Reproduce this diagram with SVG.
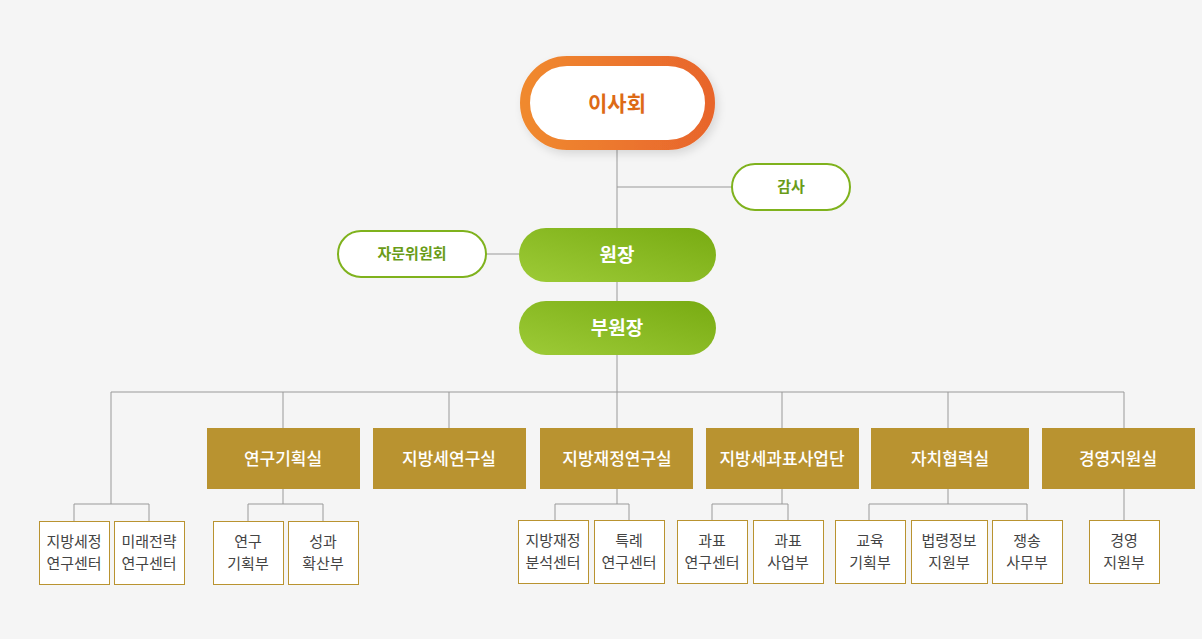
<svg xmlns="http://www.w3.org/2000/svg" width="1202" height="639" viewBox="0 0 1202 639">
<style>
text{font-family:"Noto Sans CJK KR","Noto Sans",sans-serif;text-anchor:middle}
.ln{stroke:#999;stroke-width:1;fill:none}
.off rect{fill:#b99330}
.off text{fill:#fff;font-size:17px;font-weight:500}
.sub rect{fill:#fff;stroke:#b99330;stroke-width:1}
.sub text{fill:#444;font-size:15px}
.gr rect{fill:url(#g)}
.gr text{fill:#fff;font-size:19px;font-weight:700}
.ol rect{fill:#fff;stroke:#7fb21d;stroke-width:2}
.ol text{fill:#6a9c18;font-size:15px;font-weight:700}
</style>
<defs>
<linearGradient id="g" x1="0" y1="1" x2="1" y2="0"><stop offset="0" stop-color="#9dcb37"/><stop offset="1" stop-color="#78ab12"/></linearGradient>
<linearGradient id="o" x1="0" y1="0" x2="1" y2="0"><stop offset="0" stop-color="#f0892f"/><stop offset="1" stop-color="#e8652c"/></linearGradient>
<filter id="sh" x="-20%" y="-20%" width="140%" height="150%"><feDropShadow dx="3" dy="4" stdDeviation="4" flood-color="#000" flood-opacity="0.12"/></filter>
</defs>
<rect width="1202" height="639" fill="#f5f5f5"/>
<g id="connectors" class="ln">
<path d="M617 145V301M617 187H732M486 254H519M617 355V392M111 392H1124"/>
<path d="M111 392V504M74 521V504H149V521"/>
<path d="M283 392V428M283 489V504M248 521V504H323V521"/>
<path d="M449 392V428"/>
<path d="M617 428V392M617 489V504M555 520V504H629V520"/>
<path d="M782 392V428M782 489V504M712 520V504H788V520"/>
<path d="M948 392V428M948 489V504M869 520V504H1027V520"/>
<path d="M1124 392V428M1124 489V520"/>
</g>
<g id="board"><rect x="525" y="61" width="185" height="84" rx="42" fill="#fff" stroke="url(#o)" stroke-width="10" filter="url(#sh)"/><text x="617" y="111" font-size="21" font-weight="700" fill="#dd6a16">이사회</text></g>
<g id="audit" class="ol"><rect x="732" y="164" width="118" height="46" rx="23"/><text x="791" y="192">감사</text></g>
<g id="advisory" class="ol"><rect x="338" y="231" width="148" height="46" rx="23"/><text x="412" y="259">자문위원회</text></g>
<g id="president" class="gr"><rect x="519" y="228" width="197" height="54" rx="27"/><text x="617" y="262">원장</text></g>
<g id="vice" class="gr"><rect x="519" y="301" width="197" height="54" rx="27"/><text x="617" y="335">부원장</text></g>
<g id="o1" class="off"><rect x="207" y="428" width="153" height="61"/><text x="283" y="465">연구기획실</text></g>
<g id="o2" class="off"><rect x="373" y="428" width="153" height="61"/><text x="449" y="465">지방세연구실</text></g>
<g id="o3" class="off"><rect x="540" y="428" width="153" height="61"/><text x="617" y="465">지방재정연구실</text></g>
<g id="o4" class="off"><rect x="706" y="428" width="153" height="61"/><text x="782" y="465">지방세과표사업단</text></g>
<g id="o5" class="off"><rect x="871" y="428" width="158" height="61"/><text x="950" y="465">자치협력실</text></g>
<g id="o6" class="off"><rect x="1042" y="428" width="153" height="61"/><text x="1118" y="465">경영지원실</text></g>
<g id="s1" class="sub"><rect x="39.5" y="521.5" width="70" height="63"/><text x="74" y="547">지방세정</text><text x="74" y="569">연구센터</text></g>
<g id="s2" class="sub"><rect x="114.5" y="521.5" width="70" height="63"/><text x="149" y="547">미래전략</text><text x="149" y="569">연구센터</text></g>
<g id="s3" class="sub"><rect x="213.5" y="521.5" width="70" height="63"/><text x="248" y="547">연구</text><text x="248" y="569">기획부</text></g>
<g id="s4" class="sub"><rect x="288.5" y="521.5" width="70" height="63"/><text x="323" y="547">성과</text><text x="323" y="569">확산부</text></g>
<g id="s5" class="sub"><rect x="518.5" y="520.5" width="70" height="63"/><text x="553" y="546">지방재정</text><text x="553" y="568">분석센터</text></g>
<g id="s6" class="sub"><rect x="594.5" y="520.5" width="70" height="63"/><text x="629" y="546">특례</text><text x="629" y="568">연구센터</text></g>
<g id="s7" class="sub"><rect x="677.5" y="520.5" width="70" height="63"/><text x="712" y="546">과표</text><text x="712" y="568">연구센터</text></g>
<g id="s8" class="sub"><rect x="753.5" y="520.5" width="70" height="63"/><text x="788" y="546">과표</text><text x="788" y="568">사업부</text></g>
<g id="s9" class="sub"><rect x="835.5" y="520.5" width="70" height="63"/><text x="870" y="546">교육</text><text x="870" y="568">기획부</text></g>
<g id="s10" class="sub"><rect x="911.5" y="520.5" width="76" height="63"/><text x="949" y="546">법령정보</text><text x="949" y="568">지원부</text></g>
<g id="s11" class="sub"><rect x="992.5" y="520.5" width="70" height="63"/><text x="1027" y="546">쟁송</text><text x="1027" y="568">사무부</text></g>
<g id="s12" class="sub"><rect x="1089.5" y="520.5" width="70" height="63"/><text x="1124" y="546">경영</text><text x="1124" y="568">지원부</text></g>
</svg>
